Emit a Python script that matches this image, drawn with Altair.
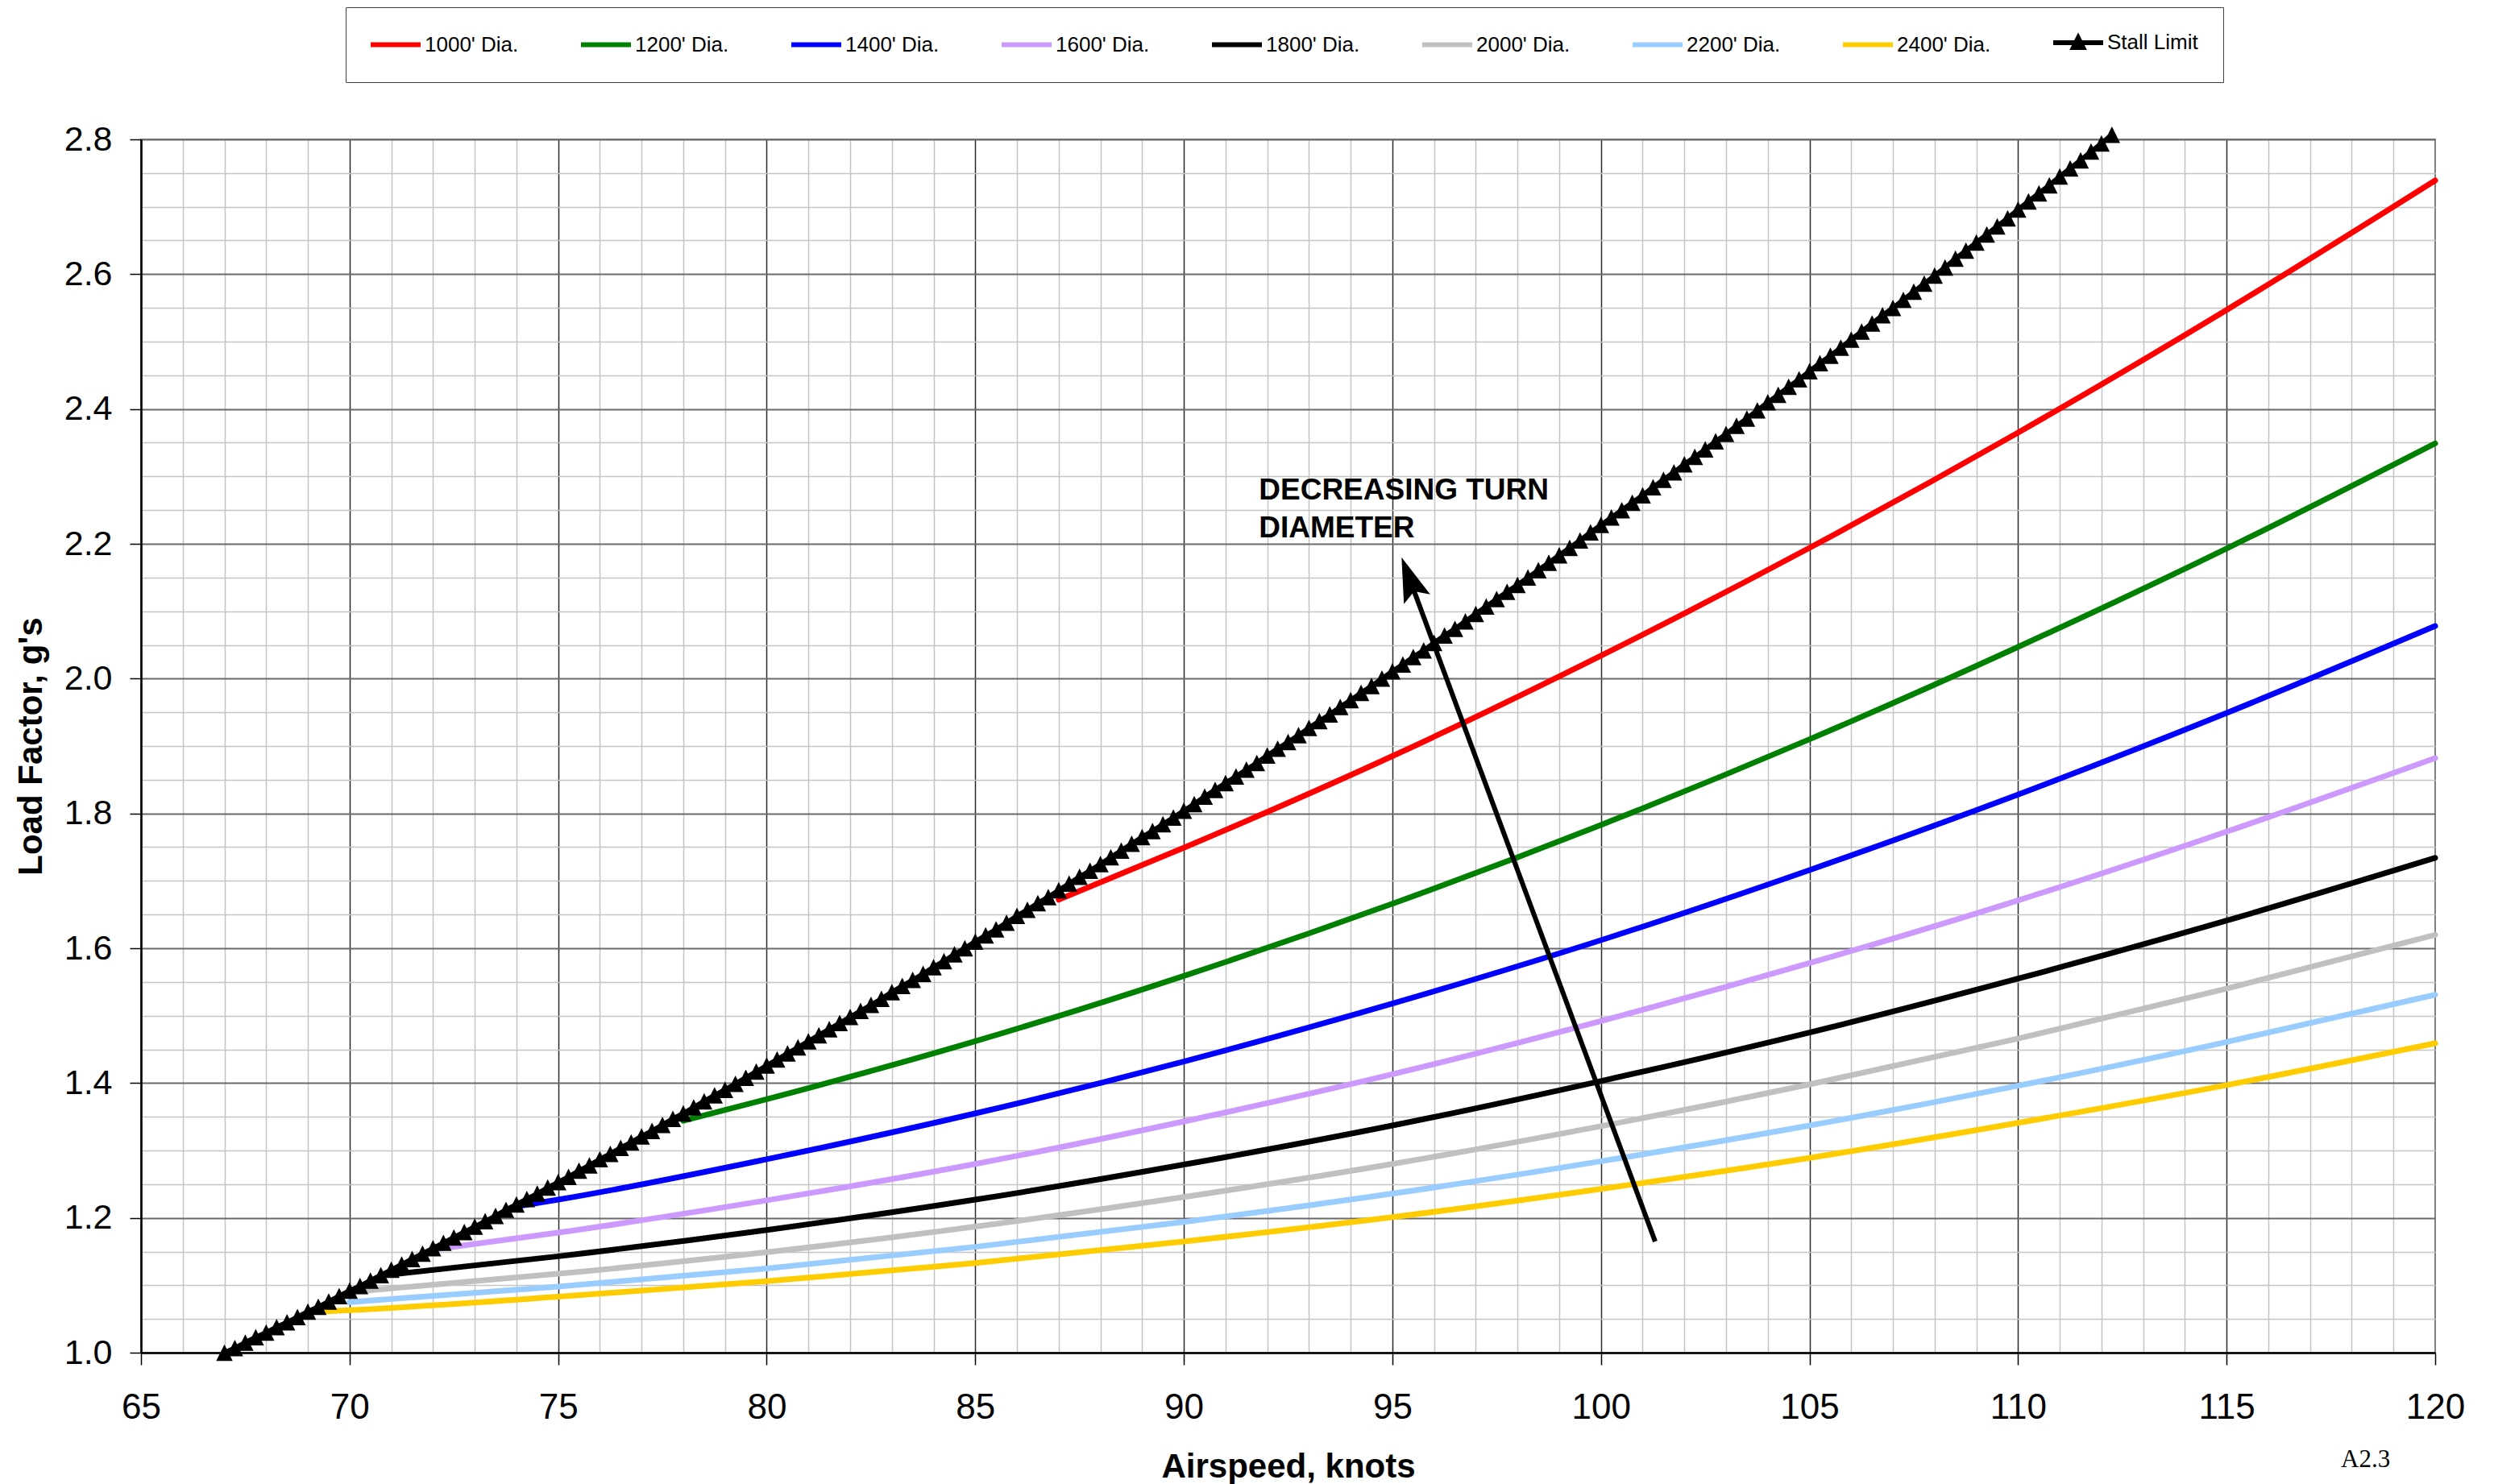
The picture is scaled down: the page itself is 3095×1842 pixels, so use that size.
import altair as alt
import pandas as pd

FONT = "Liberation Sans"
SERIF = "Liberation Serif"

# ---------------- data ----------------
SERIES = ["1000' Dia.", "1200' Dia.", "1400' Dia.", "1600' Dia.", "1800' Dia.",
          "2000' Dia.", "2200' Dia.", "2400' Dia.", "Stall Limit"]
COLORS = ["#FF0000", "#008000", "#0000FF", "#CC99FF", "#000000",
          "#C0C0C0", "#99CCFF", "#FFCC00", "#000000"]

D1000_KT = [87, 90, 95, 100, 105, 110, 115, 120]
D1000_G = [1.672, 1.749, 1.885, 2.034, 2.194, 2.365, 2.547, 2.739]
D1200_KT = [78, 80, 85, 90, 95, 100, 105, 110, 115, 120]
D1200_G = [1.344, 1.376, 1.462, 1.559, 1.666, 1.783, 1.910, 2.047, 2.193, 2.349]
D1400_KT = [74, 75, 80, 85, 90, 95, 100, 105, 110, 115, 120]
D1400_G = [1.217, 1.227, 1.287, 1.355, 1.432, 1.518, 1.612, 1.716, 1.828, 1.949, 2.078]
D1600_KT = [72, 75, 80, 85, 90, 95, 100, 105, 110, 115, 120]
D1600_G = [1.153, 1.178, 1.226, 1.280, 1.343, 1.413, 1.492, 1.578, 1.671, 1.773, 1.882]
D1800_KT = [71, 75, 80, 85, 90, 95, 100, 105, 110, 115, 120]
D1800_G = [1.116, 1.143, 1.182, 1.227, 1.279, 1.337, 1.403, 1.475, 1.555, 1.641, 1.734]
D2000_KT = [70, 75, 80, 85, 90, 95, 100, 105, 110, 115, 120]
D2000_G = [1.090, 1.117, 1.149, 1.187, 1.231, 1.280, 1.336, 1.398, 1.466, 1.540, 1.620]
D2200_KT = [70, 75, 80, 85, 90, 95, 100, 105, 110, 115, 120]
D2200_G = [1.075, 1.098, 1.125, 1.157, 1.194, 1.236, 1.284, 1.337, 1.396, 1.461, 1.531]
D2400_KT = [69, 70, 75, 80, 85, 90, 95, 100, 105, 110, 115, 120]
D2400_G = [1.060, 1.063, 1.083, 1.106, 1.133, 1.165, 1.201, 1.243, 1.289, 1.341, 1.397, 1.459]

KT_LISTS = [D1000_KT, D1200_KT, D1400_KT, D1600_KT, D1800_KT, D2000_KT, D2200_KT, D2400_KT]
G_LISTS = [D1000_G, D1200_G, D1400_G, D1600_G, D1800_G, D2000_G, D2200_G, D2400_G]

# Stall limit, one marker every 0.25 knot starting at 67 knots
STALL_START_KT = 67.0
STALL_STEP_KT = 0.25
STALL_G = [
    1.000, 1.007, 1.015, 1.023, 1.030, 1.038, 1.045, 1.053,
    1.061, 1.068, 1.076, 1.084, 1.092, 1.099, 1.107, 1.115,
    1.123, 1.131, 1.139, 1.147, 1.155, 1.163, 1.171, 1.179,
    1.187, 1.195, 1.203, 1.212, 1.220, 1.228, 1.236, 1.245,
    1.253, 1.261, 1.270, 1.278, 1.287, 1.295, 1.304, 1.312,
    1.321, 1.329, 1.338, 1.347, 1.355, 1.364, 1.373, 1.382,
    1.390, 1.399, 1.408, 1.417, 1.426, 1.435, 1.444, 1.453,
    1.462, 1.471, 1.480, 1.489, 1.498, 1.507, 1.516, 1.525,
    1.535, 1.544, 1.553, 1.562, 1.572, 1.581, 1.591, 1.600,
    1.610, 1.619, 1.628, 1.638, 1.648, 1.657, 1.667, 1.676,
    1.686, 1.696, 1.706, 1.715, 1.725, 1.735, 1.745, 1.755,
    1.765, 1.774, 1.784, 1.794, 1.804, 1.814, 1.825, 1.835,
    1.845, 1.855, 1.865, 1.875, 1.886, 1.896, 1.906, 1.916,
    1.927, 1.937, 1.947, 1.958, 1.968, 1.979, 1.989, 2.000,
    2.011, 2.021, 2.032, 2.042, 2.053, 2.064, 2.074, 2.085,
    2.096, 2.107, 2.118, 2.129, 2.139, 2.150, 2.161, 2.172,
    2.183, 2.194, 2.205, 2.217, 2.228, 2.239, 2.250, 2.261,
    2.272, 2.284, 2.295, 2.306, 2.318, 2.329, 2.340, 2.352,
    2.363, 2.375, 2.386, 2.398, 2.410, 2.421, 2.433, 2.444,
    2.456, 2.468, 2.479, 2.491, 2.503, 2.515, 2.527, 2.539,
    2.550, 2.562, 2.574, 2.586, 2.598, 2.610, 2.623, 2.635,
    2.647, 2.659, 2.671, 2.683, 2.696, 2.708, 2.720, 2.732,
    2.745, 2.757, 2.769, 2.782, 2.794, 2.807,
]

# axis ticks / grid
X_DOMAIN = [65, 120]
Y_DOMAIN = [1.0, 2.8]
X_GRID = list(range(65, 121))
Y_GRID = [round(1.0 + 0.05 * i, 2) for i in range(37)]

# annotations (data coordinates)
NOTE_TEXT = ["DECREASING TURN\nDIAMETER"]
NOTE_KT = [91.8]
NOTE_G = [2.266]
ARROW_TAIL = (101.30, 1.165)
ARROW_SHAFT_END = (95.49, 2.135)
ARROW_TIP = (95.22, 2.180)
ARROW_ANGLE = 339.7
PAGE_TAG = ["A2.3"]
PAGE_TAG_KT = [117.74]
PAGE_TAG_G = [0.830]

# legend symbols (custom paths)
LINE_SYM = "M-1.3,0L4.9,0"
STALL_SYM = "M-1.3,0L4.9,0M1.2,0.6L1.8,-0.6L2.4,0.6Z"
SHAPES = [LINE_SYM] * 8 + [STALL_SYM]
MARKER = "M0,-1L1,1L-1,1Z"
ARROW_HEAD = "M0,0L-0.58,1.85L0,1.5L0.58,1.85Z"

# ---------------- tables ----------------
rows = []
for name, xs, ys in zip(SERIES[:8], KT_LISTS, G_LISTS):
    for x, y in zip(xs, ys):
        rows.append({"series": name, "kt": x, "g": y})
lines_df = pd.DataFrame(rows)

stall_df = pd.DataFrame({
    "kt": [STALL_START_KT + STALL_STEP_KT * i for i in range(len(STALL_G))],
    "g": STALL_G,
    "series": "Stall Limit",
})
all_df = pd.concat([lines_df, stall_df], ignore_index=True)

note_df = pd.DataFrame({"kt": NOTE_KT, "g": NOTE_G, "label": NOTE_TEXT})
tag_df = pd.DataFrame({"kt": PAGE_TAG_KT, "g": PAGE_TAG_G, "label": PAGE_TAG})
shaft_df = pd.DataFrame({"kt": [ARROW_TAIL[0]], "g": [ARROW_TAIL[1]],
                         "kt2": [ARROW_SHAFT_END[0]], "g2": [ARROW_SHAFT_END[1]]})
head_df = pd.DataFrame({"kt": [ARROW_TIP[0]], "g": [ARROW_TIP[1]]})

# ---------------- axes ----------------
x_major = "datum.value % 5 === 0"
y_major = "round(datum.value * 100) % 20 === 0"

x_axis = alt.Axis(
    values=X_GRID, format="d",
    labelExpr=f"{x_major} ? datum.label : ''",
    labelFont=FONT, labelFontSize=44, labelColor="black", labelPadding=31,
    labelFlush=False, labelOverlap=False, labelBound=False,
    tickSize=15, tickWidth=1.5, tickColor="black",
    tickOpacity={"condition": {"test": x_major, "value": 1}, "value": 0},
    grid=True,
    gridColor={"condition": {"test": x_major, "value": "#2a2a2a"}, "value": "#c4c4c4"},
    gridWidth=1.5,
    gridOpacity={"condition": {"test": "datum.value === 120", "value": 0}, "value": 1},
    domainColor="black", domainWidth=2.5,
    title="Airspeed, knots", titleFont=FONT, titleFontSize=42, titleFontWeight="bold",
    titleColor="black", titleX=1423.5, titleY=154, titleBaseline="alphabetic",
    titleAlign="center",
)

y_axis = alt.Axis(
    values=Y_GRID, format=".1f",
    labelExpr=f"{y_major} ? datum.label : ''",
    labelFont=FONT, labelFontSize=43, labelColor="black", labelPadding=22,
    labelFlush=False, labelOverlap=False, labelBound=False,
    tickSize=14, tickWidth=1.5, tickColor="black",
    tickOpacity={"condition": {"test": y_major, "value": 1}, "value": 0},
    grid=True,
    gridColor={"condition": {"test": y_major, "value": "#6a6a6a"}, "value": "#c4c4c4"},
    gridWidth={"condition": {"test": y_major, "value": 2}, "value": 1.5},
    domainColor="black", domainWidth=2.5,
    title="Load Factor, g's", titleFont=FONT, titleFontSize=42, titleFontWeight="bold",
    titleColor="black", titleAngle=270, titleX=-124, titleY=753,
    titleBaseline="alphabetic", titleAlign="center",
)

x_enc = alt.X("kt:Q", scale=alt.Scale(domain=X_DOMAIN, nice=False, zero=False), axis=x_axis)
y_enc = alt.Y("g:Q", scale=alt.Scale(domain=Y_DOMAIN, nice=False, zero=False), axis=y_axis)

legend_spec = alt.Legend(
    title=None, orient="none", legendX=254, legendY=-164,
    direction="horizontal", columns=9, columnPadding=65,
    symbolSize=400, symbolStrokeWidth=6, symbolOpacity=1,
    labelFont=FONT, labelFontSize=26, labelColor="black", labelOffset=41, labelLimit=400,
    padding=31, strokeColor="#404040", fillColor="white",
)

# ---------------- layers ----------------
# curves: stroke scale over the eight diameters only (no legend of its own)
diam_lines = alt.Chart(lines_df).mark_line(
    strokeWidth=7, interpolate="monotone", strokeCap="round", strokeJoin="round"
).encode(
    x=x_enc, y=y_enc,
    stroke=alt.Stroke("series:N", scale=alt.Scale(domain=SERIES[:8], range=COLORS[:8]),
                      legend=None),
    detail="series:N",
)

stall_line = alt.Chart(stall_df).mark_line(strokeWidth=6, color="black").encode(
    x=x_enc, y=y_enc
)

stall_marks = alt.Chart(stall_df).mark_point(
    shape=MARKER, filled=True, size=420, color="black", opacity=1
).encode(x=x_enc, y=y_enc)

# layer without drawn points that only carries the legend (colour + symbol)
legend_layer = alt.Chart(all_df).transform_filter("false").mark_point(
    filled=False, opacity=1
).encode(
    x=x_enc, y=y_enc,
    color=alt.Color("series:N", scale=alt.Scale(domain=SERIES, range=COLORS), legend=legend_spec),
    shape=alt.Shape("series:N", scale=alt.Scale(domain=SERIES, range=SHAPES), legend=legend_spec),
)

shaft = alt.Chart(shaft_df).mark_rule(strokeWidth=6, color="black").encode(
    x=x_enc, y=y_enc, x2="kt2:Q", y2="g2:Q"
)

head = alt.Chart(head_df).mark_point(
    shape=ARROW_HEAD, size=3600, angle=ARROW_ANGLE, filled=True,
    color="black", opacity=1, strokeWidth=0
).encode(x=x_enc, y=y_enc)

note = alt.Chart(note_df).mark_text(
    align="left", baseline="alphabetic", font=FONT, fontSize=37, fontWeight="bold",
    lineHeight=47, lineBreak="\n", color="black"
).encode(x=x_enc, y=y_enc, text="label:N")

tag = alt.Chart(tag_df).mark_text(
    align="left", baseline="alphabetic", font=SERIF, fontSize=31, color="black"
).encode(x=x_enc, y=y_enc, text="label:N")

chart = alt.layer(
    diam_lines, stall_line, stall_marks, legend_layer, shaft, head, note, tag
).properties(
    width=2847, height=1506,
    padding={"left": 9, "top": 0, "right": 5, "bottom": 5},
    background="white",
).configure_view(stroke="#808080", strokeWidth=2)

chart.save("out.html", embed_options={"renderer": "svg", "actions": False})
